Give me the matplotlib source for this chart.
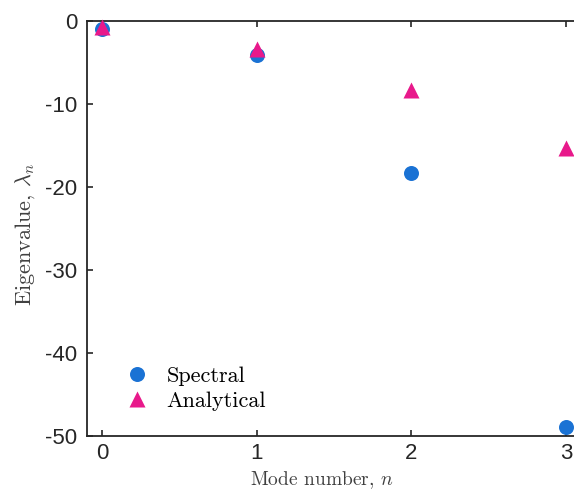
import matplotlib
matplotlib.use('Agg')
import matplotlib.pyplot as plt
import numpy as np

plt.rcParams['font.family'] = 'Liberation Sans'
plt.rcParams['mathtext.fontset'] = 'cm'
plt.rcParams['axes.unicode_minus'] = False

# eigenvalues per mode
modes = [0, 1, 2, 3]
spectral = [-1.0, -4.1, -18.3, -48.9]
analytical = [-0.7, -3.4, -8.3, -15.3]

blue = '#1a72d4'
pink = '#e8198b'
dark = '#262626'

fig = plt.figure(figsize=(5.74, 4.93), dpi=100)
# right edge of the box sits just past the figure, as in the original
ax = fig.add_axes([87/574, 57/493, 494.4/574, 415/493])

ax.plot(modes, spectral, 'o', color=blue, ms=10.8, mec='none',
        label='Spectral', clip_on=False, zorder=3)
ax.plot(modes, analytical, '^', color=pink, ms=11.5, mec='none',
        label='Analytical', clip_on=False, zorder=4)

ax.set_xlim(-0.1, 3.1)
ax.set_ylim(-50, 0)
ax.set_xticks(modes)
ax.set_yticks([0, -10, -20, -30, -40, -50])

for s in ax.spines.values():
    s.set_color(dark)
    s.set_linewidth(1.3)
ax.tick_params(direction='in', length=4.5, width=1.2, color=dark,
               labelsize=16, labelcolor=dark,
               top=True, right=True)
ax.tick_params(axis='y', pad=7)
ax.tick_params(axis='x', pad=5)

# latex-looking labels in computer modern
ax.set_xlabel(r'Mode number, $n$', fontsize=14, family='cmr10', color='#404040')
ax.set_ylabel(r'Eigenvalue, $\lambda_n$', fontsize=16, family='cmr10', color='#404040')
ax.xaxis.set_label_coords(0.475, -0.08)
ax.yaxis.set_label_coords(-0.101, 0.485)

ax.legend(loc='lower left', bbox_to_anchor=(0.033, 0.012), frameon=False,
          prop={'family': 'cmr10', 'size': 16}, handletextpad=0.75,
          labelspacing=0.25, handlelength=1.2, markerscale=1.0)

plt.savefig('out.png', dpi=100)
